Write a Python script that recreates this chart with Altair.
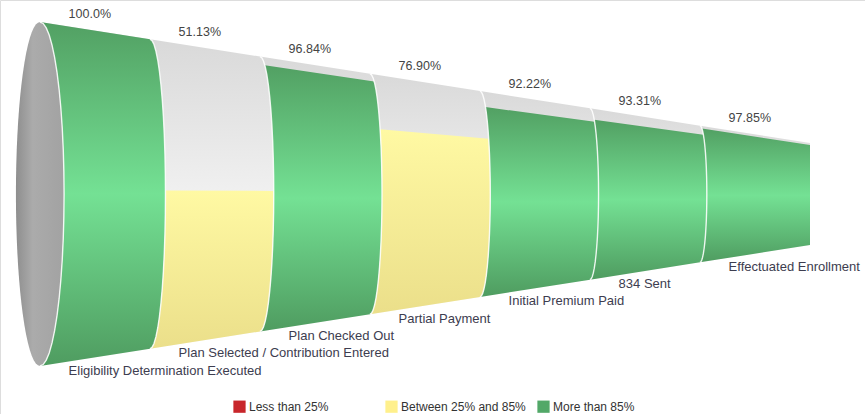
import math
import altair as alt
import pandas as pd

# ---------------- data ----------------
stages = [
    "Eligibility Determination Executed",
    "Plan Selected / Contribution Entered",
    "Plan Checked Out",
    "Partial Payment",
    "Initial Premium Paid",
    "834 Sent",
    "Effectuated Enrollment",
]
pct_values = [100.0, 51.13, 96.84, 76.90, 92.22, 93.31, 97.85]
pct_labels = ["100.0%", "51.13%", "96.84%", "76.90%", "92.22%", "93.31%", "97.85%"]
legend_labels = ["Less than 25%", "Between 25% and 85%", "More than 85%"]
legend_colors = ["#c8262b", "#fff08c", "#52a868"]

# ---------------- cone geometry (derived) ----------------
N = len(stages)
PX_PER_U = 110.0      # horizontal pixels per stage
PX_PER_R = 172.0      # vertical pixels per radius unit
R_END = 0.297         # relative radius at the narrow end


def radius(u):
    return 1.0 - (1.0 - R_END) * u / N


def bulge(i):
    # horizontal half-axis of the cross-section ellipse, as fraction of radius
    if i == 0:
        return 0.14
    if i >= N:
        return 0.0
    return 0.10


def arc(i, v_from, v_to, steps=24):
    a0, a1 = math.asin(v_from), math.asin(v_to)
    r = radius(i)
    k = bulge(i) * PX_PER_R / PX_PER_U
    pts = []
    for s in range(steps + 1):
        a = a0 + (a1 - a0) * s / steps
        pts.append((i + k * r * math.cos(a), math.sin(a) * r))
    return pts


def category(p):
    if p < 25:
        return legend_labels[0]
    if p <= 85:
        return legend_labels[1]
    return legend_labels[2]


rows = []


def add_poly(name, layer, pts):
    for j, (x, y) in enumerate(pts):
        rows.append({"poly": name, "layer": layer, "ord": j, "x": x, "y": y})


# end cap (full ellipse)
r0 = radius(0)
k0 = bulge(0) * PX_PER_R / PX_PER_U
cap = []
for s in range(73):
    a = 2 * math.pi * s / 72
    cap.append((k0 * r0 * math.cos(a), r0 * math.sin(a)))
add_poly("cap", "cap", cap)

for i, p in enumerate(pct_values):
    # full grey segment
    add_poly(f"g{i}", "grey", arc(i + 1, 1, -1) + arc(i, -1, 1))
    vf = min(1.0, -1.0 + 2.0 * p / 100.0)
    cat = category(p)
    add_poly(f"c{i}", cat, arc(i + 1, vf, -1) + arc(i, -1, vf))

for i in range(N):
    add_poly(f"w{i}", "white", arc(i, 1, -1))

poly_df = pd.DataFrame(rows)

lab_rows = []
for i, (name, lab) in enumerate(zip(stages, pct_labels)):
    u = i + 0.26
    r = radius(u)
    lab_rows.append({"stage": name, "pct": lab, "x": u,
                     "ytop": r + 12 / PX_PER_R, "ybot": -r - 9 / PX_PER_R})
lab_df = pd.DataFrame(lab_rows)

leg_df = pd.DataFrame({"cat": legend_labels})

# ---------------- scales ----------------
W, H = 865, 414
X0_PX, CY_PX = 40.0, 194.0
xs = alt.Scale(domain=[-X0_PX / PX_PER_U, (W - X0_PX) / PX_PER_U], nice=False, zero=False)
ys = alt.Scale(domain=[(CY_PX - H) / PX_PER_R, CY_PX / PX_PER_R], nice=False, zero=False)
X = alt.X("x:Q", scale=xs, axis=None)

FONT = "Liberation Sans"


def grad(stops, vertical=True):
    return alt.Gradient(
        gradient="linear",
        stops=[alt.GradientStop(offset=o, color=c) for o, c in stops],
        x1=0, x2=0 if vertical else 1, y1=0, y2=1 if vertical else 0,
    )


def poly_layer(layer, fill):
    return (
        alt.Chart(poly_df)
        .transform_filter(alt.datum.layer == layer)
        .mark_line(fill=fill, strokeWidth=0)
        .encode(x=X, y=alt.Y("y:Q", scale=ys, axis=None), detail="poly:N", order="ord:Q")
    )


cap_l = poly_layer("cap", grad([(0, "#8e8e8e"), (0.35, "#ababab"), (1, "#a2a2a2")], vertical=False))
grey_l = poly_layer("grey", grad([(0, "#d9d9d9"), (0.5, "#f0f0f0"), (1, "#f8f8f8")]))
green_l = poly_layer(legend_labels[2], grad([(0, "#52a063"), (0.5, "#74e194"), (1, "#4f9c60")]))
yellow_l = poly_layer(legend_labels[1], grad([(0, "#fff9a3"), (1, "#ebdf8a")]))
red_l = poly_layer(legend_labels[0], grad([(0, "#d83a3a"), (1, "#a81c1c")]))

white_l = (
    alt.Chart(poly_df)
    .transform_filter(alt.datum.layer == "white")
    .mark_line(stroke="#ffffff", strokeWidth=1.4, opacity=0.85)
    .encode(x=X, y=alt.Y("y:Q", scale=ys, axis=None), detail="poly:N", order="ord:Q")
)

pct_text = (
    alt.Chart(lab_df)
    .mark_text(align="left", baseline="middle", font=FONT, fontSize=12.5, color="#444444")
    .encode(x=X, y=alt.Y("ytop:Q", scale=ys, axis=None), text="pct:N")
)
stage_text = (
    alt.Chart(lab_df)
    .mark_text(align="left", baseline="middle", font=FONT, fontSize=13, color="#3d3d4f")
    .encode(x=X, y=alt.Y("ybot:Q", scale=ys, axis=None), text="stage:N")
)

legend_l = (
    alt.Chart(leg_df)
    .mark_square(size=0, opacity=0)
    .encode(
        color=alt.Color(
            "cat:N",
            scale=alt.Scale(domain=legend_labels, range=legend_colors),
            legend=alt.Legend(
                title=None, orient="none", legendX=233, legendY=400,
                direction="horizontal", columns=3, gridAlign="all", columnPadding=11,
                symbolType="square", symbolSize=150, symbolOpacity=1, symbolStrokeWidth=0,
                labelFont=FONT, labelFontSize=12, labelColor="#333333", labelOffset=3,
                padding=0,
            ),
        )
    )
)

chart = (
    alt.layer(cap_l, grey_l, green_l, yellow_l, red_l, white_l, pct_text, stage_text, legend_l)
    .properties(width=W, height=H, autosize=alt.AutoSizeParams(type="none"), padding=0)
    .configure_view(stroke=None)
    .configure(background="#ffffff")
)

chart.save("out.html", embed_options={"renderer": "svg", "actions": False})
